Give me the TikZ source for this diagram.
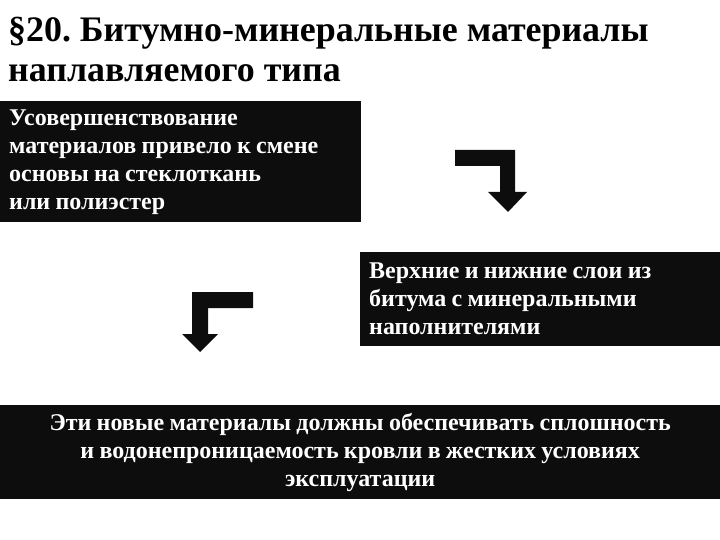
\documentclass[tikz,border=0pt]{standalone}
\usepackage{fontspec}
\setmainfont{Liberation Serif}
\frenchspacing
\begin{document}
\begin{tikzpicture}[x=1pt,y=-1pt,
  box/.style={fill=black!95, text=white, font=\bfseries\fontsize{24}{28}\selectfont, inner xsep=9pt, inner ysep=0pt, anchor=north west, execute at begin node={\spaceskip=0.22em\relax}},
  ttl/.style={anchor=base west, inner sep=0pt, font=\bfseries\fontsize{35.9}{40}\selectfont},
  bentarrow/.style={fill=black!95, draw=none}]
\useasboundingbox (0,0) rectangle (720,540);
\node[ttl] (title1) at (8,42) {§20. Битумно-минеральные материалы};
\node[ttl] (title2) at (8,82) {наплавляемого типа};
\node[box, minimum width=361, minimum height=121, text width=343, align=left] (b1) at (0,101) {Усовершенствование\\материалов привело к смене\\основы на стеклоткань\\или полиэстер};
\node[box, minimum width=360, minimum height=94, text width=342, align=left] (b2) at (360,252) {Верхние и нижние слои из\\битума с минеральными\\наполнителями};
\node[box, minimum width=720, minimum height=94, text width=702, align=center] (b3) at (0,405) {Эти новые материалы должны обеспечивать сплошность\\и водонепроницаемость кровли в жестких условиях\\эксплуатации};
\fill[bentarrow] (455,150) -- (515,150) -- (515,192) -- (527,192) -- (508,212) -- (488,192) -- (500,192) -- (500,166) -- (455,166) -- cycle;
\fill[bentarrow] (253,292) -- (192,292) -- (192,334) -- (182,334) -- (200,352) -- (218,334) -- (208,334) -- (208,308) -- (253,308) -- cycle;
\end{tikzpicture}
\end{document}
